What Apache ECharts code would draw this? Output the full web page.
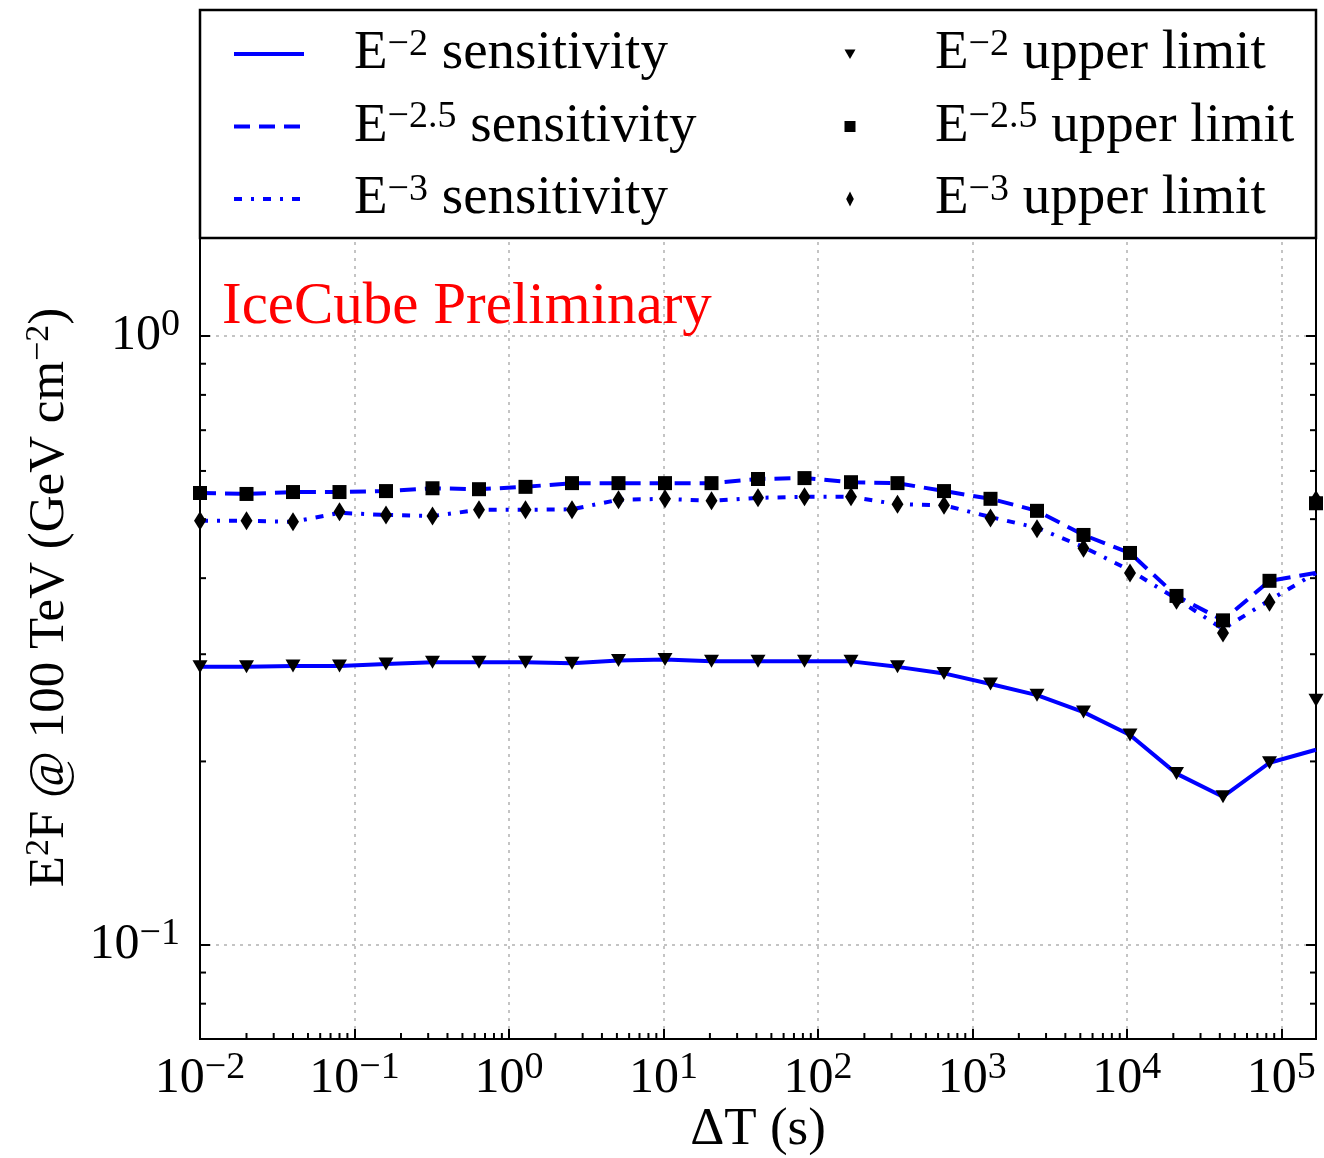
<!DOCTYPE html>
<html>
<head>
<meta charset="utf-8">
<script src="https://cdn.jsdelivr.net/npm/echarts@6/dist/echarts.min.js"></script>
<style>
html, body { margin: 0; padding: 0; background: #fff; }
#chart { width: 1324px; height: 1158px; }
</style>
</head>
<body>
<div id="chart"></div>
<script>
var fontFamily = "'Liberation Serif', 'DejaVu Serif', serif";

// time windows (s)
var durations = [0.01, 0.02, 0.04, 0.08, 0.16, 0.32, 0.64, 1.28, 2.56, 5.12, 10.24, 20.48,
	40.96, 81.92, 163.84, 327.68, 655.36, 1310.72, 2621.44, 5242.88, 10485.76, 20971.52,
	41943.04, 83886.08, 167772.16];

// E^2 F @ 100 TeV (GeV cm^-2)
var sensE2 = [0.286, 0.286, 0.287, 0.287, 0.289, 0.291, 0.291, 0.291, 0.290, 0.293, 0.294, 0.292,
	0.292, 0.292, 0.292, 0.286, 0.279, 0.268, 0.257, 0.241, 0.221, 0.191, 0.175, 0.199, 0.209];
var limitE2 = [0.286, 0.286, 0.287, 0.287, 0.289, 0.291, 0.291, 0.291, 0.290, 0.293, 0.294, 0.292,
	0.292, 0.292, 0.292, 0.286, 0.279, 0.268, 0.257, 0.241, 0.221, 0.191, 0.175, 0.199, 0.252];
var sensE25 = [0.552, 0.550, 0.554, 0.554, 0.556, 0.562, 0.560, 0.565, 0.573, 0.573, 0.573, 0.573,
	0.582, 0.584, 0.575, 0.573, 0.556, 0.540, 0.516, 0.471, 0.440, 0.374, 0.341, 0.396, 0.408];
var limitE25 = [0.552, 0.550, 0.554, 0.554, 0.556, 0.562, 0.560, 0.565, 0.573, 0.573, 0.573, 0.573,
	0.582, 0.584, 0.575, 0.573, 0.556, 0.540, 0.516, 0.471, 0.440, 0.374, 0.341, 0.396, 0.531];
var sensE3 = [0.497, 0.497, 0.495, 0.512, 0.508, 0.506, 0.518, 0.518, 0.519, 0.538, 0.540, 0.536,
	0.542, 0.544, 0.544, 0.529, 0.527, 0.504, 0.484, 0.450, 0.412, 0.370, 0.330, 0.368, 0.408];
var limitE3 = [0.497, 0.497, 0.495, 0.514, 0.508, 0.506, 0.518, 0.518, 0.518, 0.538, 0.540, 0.536,
	0.542, 0.544, 0.544, 0.529, 0.527, 0.502, 0.482, 0.448, 0.408, 0.368, 0.325, 0.365, 0.538];

var sensNames = ['E-2 sensitivity', 'E-2.5 sensitivity', 'E-3 sensitivity'];
var limitNames = ['E-2 upper limit', 'E-2.5 upper limit', 'E-3 upper limit'];
var legendLabels = {
	'E-2 sensitivity': '{b|E}{sup|\u22122}{b| sensitivity}',
	'E-2.5 sensitivity': '{b|E}{sup|\u22122.5}{b| sensitivity}',
	'E-3 sensitivity': '{b|E}{sup|\u22123}{b| sensitivity}',
	'E-2 upper limit': '{b|E}{sup|\u22122}{b| upper limit}',
	'E-2.5 upper limit': '{b|E}{sup|\u22122.5}{b| upper limit}',
	'E-3 upper limit': '{b|E}{sup|\u22123}{b| upper limit}'
};

var xMin = 0.01, xMax = 167772.16;
var yMin = 0.07, yMax = 3.43;
var yMinorTicks = [0.08, 0.09, 0.2, 0.3, 0.4, 0.5, 0.6, 0.7, 0.8, 0.9, 2, 3];
var xMinorTicks = [];
for (var k = -2; k <= 5; k++) {
	for (var m = 2; m <= 9; m++) {
		var t = m * Math.pow(10, k);
		if (t < xMax) xMinorTicks.push(t);
	}
}

function pairs(ys) {
	return durations.map(function (d, i) { return [d, ys[i]]; });
}

function rich(size, supSize, lh) {
	return {
		b: { fontFamily: fontFamily, fontSize: size, lineHeight: lh, color: '#000' },
		sup: { fontFamily: fontFamily, fontSize: supSize, lineHeight: supSize, verticalAlign: 'top', color: '#000' }
	};
}

function powerLabel(v) {
	var e = Math.log10(v);
	var r = Math.round(e);
	if (Math.abs(e - r) > 1e-6) return '';
	return '{b|10}{sup|' + (r < 0 ? '\u2212' + (-r) : r) + '}';
}

var blue = '#0000ff';
var gridLine = { show: true, lineStyle: { color: '#c4c4c4', width: 2, type: [3, 5] } };
var tickStyle = { show: true, inside: true, length: 10, lineStyle: { color: '#000', width: 2 } };
var axisLine = { show: true, lineStyle: { color: '#000', width: 2 } };

var chart = echarts.init(document.getElementById('chart'));

var option = {
	animation: false,
	backgroundColor: '#fff',
	grid: {
		left: 200, right: 8, top: 10, bottom: 119,
		containLabel: false, outerBoundsMode: 'none',
		show: true, borderColor: '#000', borderWidth: 2
	},
	xAxis: {
		type: 'log', logBase: 10, min: xMin, max: xMax,
		name: '{b|\u0394T (s)}', nameLocation: 'middle', nameGap: 63, nameMoveOverlap: false,
		nameTextStyle: { rich: rich(53, 36, 56) },
		axisLine: axisLine, axisTick: tickStyle, splitLine: gridLine,
		axisLabel: { margin: 10, formatter: powerLabel, rich: rich(50, 38, 60) }
	},
	yAxis: [{
		type: 'log', logBase: 10, min: yMin, max: yMax, position: 'left',
		name: '{b|E}{sup|2}{b|F @ 100 TeV (GeV cm}{sup|\u22122}{b|)}',
		nameLocation: 'middle', nameRotate: 90, nameGap: 122, nameMoveOverlap: false,
		nameTextStyle: { padding: [0, 146, 0, 0], rich: rich(51, 34, 56) },
		axisLine: axisLine, axisTick: tickStyle, splitLine: gridLine,
		axisLabel: { margin: 20, formatter: powerLabel, rich: rich(50, 38, 60) }
	}, {
		type: 'log', logBase: 10, min: yMin, max: yMax, position: 'right',
		axisLine: axisLine, axisTick: tickStyle, splitLine: { show: false },
		axisLabel: { show: false }
	}],
	legend: [{
		data: sensNames, orient: 'vertical', left: 232, top: 26, padding: 0,
		itemWidth: 70, itemHeight: 20, itemGap: 17, z: 20,
		itemStyle: { opacity: 0 },
		lineStyle: { width: 4 },
		formatter: function (name) { return legendLabels[name]; },
		textStyle: { padding: [0, 0, 0, 45], rich: rich(55, 38, 56) }
	}, {
		data: [
			{ name: limitNames[0], icon: 'path://M0,0 M16,16 M2.5,3.5 L13.5,3.5 L8,13 Z' },
			{ name: limitNames[1], icon: 'path://M0,0 M16,16 M2.5,2.5 L13.5,2.5 L13.5,13.5 L2.5,13.5 Z' },
			{ name: limitNames[2], icon: 'path://M0,0 M16,16 M8,0.5 L11.8,8 L8,15.5 L4.2,8 Z' }
		],
		orient: 'vertical', left: 842, top: 26, padding: 0,
		itemWidth: 16, itemHeight: 16, itemGap: 17, z: 20,
		formatter: function (name) { return legendLabels[name]; },
		textStyle: { padding: [0, 0, 0, 72], rich: rich(55, 38, 56) }
	}],
	graphic: [{
		type: 'rect', z: 10,
		shape: { x: 200, y: 10, width: 1116, height: 228 },
		style: { fill: '#fff', stroke: '#000', lineWidth: 2.5 }
	}, {
		type: 'text', z: 10, x: 222, y: 307,
		style: {
			text: 'IceCube Preliminary', fill: '#ff0000',
			font: '59px ' + fontFamily, textVerticalAlign: 'middle'
		}
	}],
	series: [{
		name: sensNames[0], type: 'line', data: pairs(sensE2),
		symbol: 'none', lineStyle: { color: blue, width: 4 }, itemStyle: { color: blue }, z: 2
	}, {
		name: sensNames[1], type: 'line', data: pairs(sensE25),
		symbol: 'none', lineStyle: { color: blue, width: 4, type: [16, 9] }, itemStyle: { color: blue }, z: 2
	}, {
		name: sensNames[2], type: 'line', data: pairs(sensE3),
		symbol: 'none', lineStyle: { color: blue, width: 4, type: [8, 9, 3, 9] }, itemStyle: { color: blue }, z: 2
	}, {
		name: limitNames[0], type: 'scatter', data: pairs(limitE2),
		symbol: 'path://M0,0 L10,0 L5,9 Z', symbolSize: [15, 13],
		itemStyle: { color: '#000', opacity: 1 }, z: 3
	}, {
		name: limitNames[1], type: 'scatter', data: pairs(limitE25),
		symbol: 'rect', symbolSize: 14,
		itemStyle: { color: '#000', opacity: 1 }, z: 3
	}, {
		name: limitNames[2], type: 'scatter', data: pairs(limitE3),
		symbol: 'diamond', symbolSize: [12, 19],
		itemStyle: { color: '#000', opacity: 1 }, z: 3
	}, {
		type: 'custom', silent: true, z: 4,
		data: yMinorTicks.map(function (v) { return [xMin, v]; }),
		renderItem: function (params, api) {
			var p = api.coord([xMin, api.value(1)]);
			var q = api.coord([xMax, api.value(1)]);
			return { type: 'group', children: [
				{ type: 'line', shape: { x1: p[0], y1: p[1], x2: p[0] + 6, y2: p[1] }, style: { stroke: '#000', lineWidth: 2 } },
				{ type: 'line', shape: { x1: q[0] - 6, y1: q[1], x2: q[0], y2: q[1] }, style: { stroke: '#000', lineWidth: 2 } }
			] };
		}
	}, {
		type: 'custom', silent: true, z: 4,
		data: xMinorTicks.map(function (v) { return [v, yMin]; }),
		renderItem: function (params, api) {
			var p = api.coord([api.value(0), yMin]);
			return { type: 'line', shape: { x1: p[0], y1: p[1], x2: p[0], y2: p[1] - 6 }, style: { stroke: '#000', lineWidth: 2 } };
		}
	}]
};

chart.setOption(option);
window.addEventListener('resize', function () { chart.resize(); });
</script>
</body>
</html>
